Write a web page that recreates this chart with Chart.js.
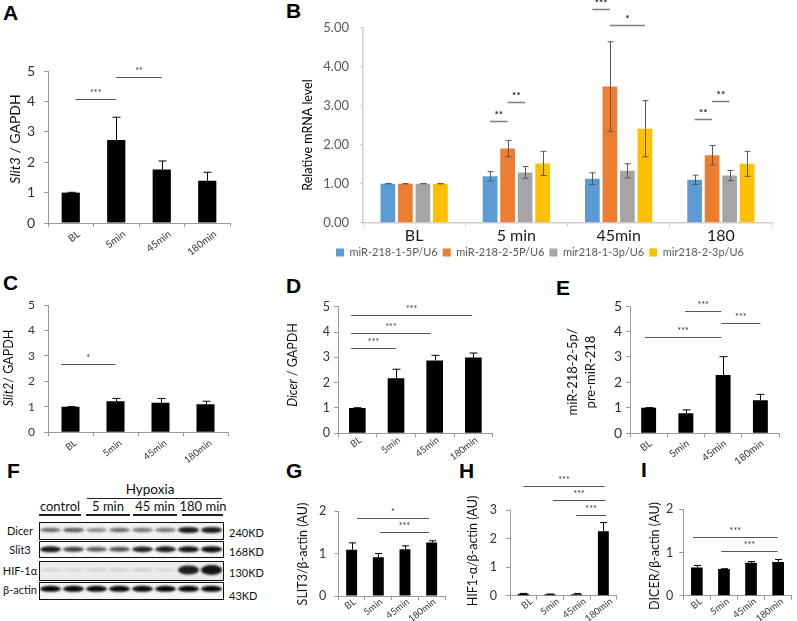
<!DOCTYPE html>
<html><head><meta charset="utf-8">
<script src="https://cdn.jsdelivr.net/npm/chart.js@4.4.1/dist/chart.umd.min.js"></script>
<style>
html,body{margin:0;padding:0;background:#fff;}
body{position:relative;width:797px;height:621px;overflow:hidden;font-family:'Liberation Sans',Arial,sans-serif;}
canvas{position:absolute;}
.pl{position:absolute;font:bold 21px 'Liberation Sans',Arial,sans-serif;line-height:21px;color:#000;}
.t{position:absolute;white-space:nowrap;font-family:Lato,'Open Sans',sans-serif;color:#111;transform:translate(-50%,-50%);line-height:1;}
.tl{position:absolute;white-space:nowrap;font-family:Lato,'Open Sans',sans-serif;color:#111;transform:translate(0,-50%);line-height:1;}
.hl{position:absolute;background:#222;height:1.5px;}
</style></head><body>
<div class="pl" style="left:3px;top:2px">A</div>
<div class="pl" style="left:286px;top:0px">B</div>
<div class="pl" style="left:3px;top:272px">C</div>
<div class="pl" style="left:286px;top:275px">D</div>
<div class="pl" style="left:556px;top:277px">E</div>
<div class="pl" style="left:7px;top:460px">F</div>
<div class="pl" style="left:286px;top:460px">G</div>
<div class="pl" style="left:459px;top:460px">H</div>
<div class="pl" style="left:641px;top:459px">I</div>

<!-- Panel F labels -->
<div class="t" style="left:150px;top:490px;font-size:13.5px">Hypoxia</div>
<div class="hl" style="left:87px;top:497.5px;width:135px"></div>
<div class="t" style="left:60px;top:505.5px;font-size:13px">control</div>
<div class="t" style="left:108px;top:505.5px;font-size:13px">5 min</div>
<div class="t" style="left:155px;top:505.5px;font-size:13px">45 min</div>
<div class="t" style="left:203px;top:505.5px;font-size:13px">180 min</div>
<div class="hl" style="left:39px;top:514px;width:42px"></div>
<div class="hl" style="left:86px;top:514px;width:44px"></div>
<div class="hl" style="left:133px;top:514px;width:44px"></div>
<div class="hl" style="left:182px;top:514px;width:41px"></div>
<div id="blotLabels"></div>

<script>
// ---------------- DATA ----------------
const timeLabels = ['BL', '5min', '45min', '180min'];

// A: Slit3 / GAPDH
const slit3Mrna = [1.00, 2.73, 1.76, 1.39];
const slit3MrnaErr = [0.01, 0.75, 0.28, 0.28];
const slit3MrnaSig = [{a: 0.1, b: 1, y: 4.08, t: '***'}, {a: 1, b: 2, y: 4.8, t: '**'}];

// B: relative miRNA levels
const bLabels = ['BL', '5 min', '45min', '180'];
const bSeriesNames = ['miR-218-1-5P/U6', 'miR-218-2-5P/U6', 'mir218-1-3p/U6', 'mir218-2-3p/U6'];
const mir218_1_5p = [1.00, 1.19, 1.13, 1.10];
const mir218_1_5pErr = [0.003, 0.12, 0.15, 0.12];
const mir218_2_5p = [1.00, 1.90, 3.49, 1.73];
const mir218_2_5pErr = [0.003, 0.21, 1.15, 0.25];
const mir218_1_3p = [1.00, 1.29, 1.33, 1.21];
const mir218_1_3pErr = [0.003, 0.15, 0.18, 0.13];
const mir218_2_3p = [1.00, 1.52, 2.41, 1.51];
const mir218_2_3pErr = [0.003, 0.31, 0.72, 0.32];
const bColors = ['#5b9bd5', '#ed7d31', '#a5a5a5', '#ffc000'];
const bSig = [
  {cat: 1, a: 0, b: 1, y: 2.60, t: '**'}, {cat: 1, a: 1, b: 2, y: 3.09, t: '**'},
  {cat: 2, a: 0, b: 1, y: 5.47, t: '***'}, {cat: 2, a: 1, b: 3, y: 5.07, t: '*'},
  {cat: 3, a: 0, b: 1, y: 2.67, t: '**'}, {cat: 3, a: 1, b: 2, y: 3.11, t: '**'}
];

// C: Slit2 / GAPDH
const slit2Mrna = [1.00, 1.22, 1.16, 1.10];
const slit2MrnaErr = [0.01, 0.11, 0.17, 0.12];
const slit2MrnaSig = [{a: -0.21, b: 1, y: 2.67, t: '*'}];

// D: Dicer / GAPDH
const dicerMrna = [1.00, 2.17, 2.88, 2.99];
const dicerMrnaErr = [0.01, 0.36, 0.20, 0.18];
const dicerMrnaSig = [{a: -0.16, b: 1.0, y: 3.37, t: '***'}, {a: -0.16, b: 1.9, y: 3.98, t: '***'}, {a: -0.16, b: 2.97, y: 4.66, t: '***'}];

// E: miR-218-2-5p / pre-miR-218
const matureRatio = [1.00, 0.79, 2.29, 1.30];
const matureRatioErr = [0.01, 0.13, 0.72, 0.23];
const matureRatioSig = [{a: -0.1, b: 1.95, y: 3.78, t: '***'}, {a: 0.98, b: 1.95, y: 4.82, t: '***'}, {a: 1.95, b: 3.0, y: 4.35, t: '***'}];

// G: SLIT3 / beta-actin
const slit3Prot = [1.09, 0.91, 1.10, 1.26];
const slit3ProtErr = [0.16, 0.09, 0.08, 0.04];
const slit3ProtSig = [{a: 0.2, b: 2.9, y: 1.84, t: '*'}, {a: 1.06, b: 2.9, y: 1.51, t: '***'}];

// H: HIF1-alpha / beta-actin
const hifProt = [0.07, 0.05, 0.05, 2.26];
const hifProtErr = [0.01, 0.01, 0.03, 0.30];
const hifProtSig = [{a: 0, b: 3.05, y: 3.84, t: '***'}, {a: 1.1, b: 3.08, y: 3.36, t: '***'}, {a: 1.98, b: 3.1, y: 2.82, t: '***'}];

// I: DICER / beta-actin
const dicerProt = [0.65, 0.62, 0.76, 0.78];
const dicerProtErr = [0.05, 0.005, 0.03, 0.06];
const dicerProtSig = [{a: -0.14, b: 2.98, y: 1.35, t: '***'}, {a: 0.9, b: 2.98, y: 1.04, t: '***'}];

// F: western blot band darkness (8 lanes: control x2, 5 min x2, 45 min x2, 180 min x2)
const blotRows = ['Dicer', 'Slit3', 'HIF-1α', 'β-actin'];
const blotKD = ['240KD', '168KD', '130KD', '43KD'];
const dicerBands = [0.55, 0.60, 0.42, 0.55, 0.50, 0.50, 0.88, 0.88];
const slit3Bands = [0.90, 0.72, 0.62, 0.66, 0.86, 0.88, 0.90, 0.95];
const hifBands = [0.12, 0.10, 0.13, 0.14, 0.16, 0.10, 0.88, 0.92];
const actinBands = [0.97, 0.97, 0.97, 0.97, 0.97, 0.97, 0.97, 0.97];

// ---------------- RENDER ----------------
const FONT = "Lato, 'Open Sans', sans-serif";
Chart.defaults.font.family = FONT;
const extras = new WeakMap();

const errorBars = {
  id: 'errorBars',
  afterDatasetsDraw(chart) {
    const ctx = chart.ctx, ys = chart.scales.y;
    chart.data.datasets.forEach((ds, i) => {
      if (!ds.err) return;
      const meta = chart.getDatasetMeta(i);
      meta.data.forEach((bar, j) => {
        const v = ds.data[j], e = ds.err[j];
        const top = ys.getPixelForValue(v + e);
        const bot = ys.getPixelForValue(ds.twoSided ? v - e : v);
        const c = (ds.capWidth || 8) / 2;
        const x = Math.round(bar.x) + 0.5;
        ctx.save();
        ctx.strokeStyle = ds.errColor || '#000';
        ctx.lineWidth = ds.errWidth || 1;
        ctx.beginPath();
        ctx.moveTo(x, top); ctx.lineTo(x, bot);
        ctx.moveTo(x - c, top); ctx.lineTo(x + c, top);
        if (ds.twoSided) { ctx.moveTo(x - c, bot); ctx.lineTo(x + c, bot); }
        ctx.stroke();
        ctx.restore();
      });
    });
  }
};

const sigBrackets = {
  id: 'sigBrackets',
  afterDatasetsDraw(chart) {
    const ex = extras.get(chart.canvas);
    if (!ex || !ex.sig) return;
    const ctx = chart.ctx, xs = chart.scales.x, ys = chart.scales.y;
    ex.sig.forEach(it => {
      let x1, x2;
      if (it.cat !== undefined) {
        x1 = chart.getDatasetMeta(it.a).data[it.cat].x;
        x2 = chart.getDatasetMeta(it.b).data[it.cat].x;
      } else {
        x1 = xs.getPixelForValue(it.a);
        x2 = xs.getPixelForValue(it.b);
      }
      const y = Math.round(ys.getPixelForValue(it.y)) + 0.5;
      ctx.save();
      ctx.strokeStyle = ex.sigLine || '#555';
      ctx.lineWidth = ex.sigWidth || 1;
      ctx.beginPath(); ctx.moveTo(x1, y); ctx.lineTo(x2, y); ctx.stroke();
      ctx.fillStyle = ex.sigText || '#333';
      ctx.font = ex.sigFont || ('9px ' + FONT);
      ctx.textAlign = 'center'; ctx.textBaseline = 'bottom';
      ctx.fillText(it.t, (x1 + x2) / 2, y - (ex.sigGap || 2));
      ctx.restore();
    });
  }
};

const yTitle = {
  id: 'yTitle',
  afterDraw(chart) {
    const ex = extras.get(chart.canvas);
    if (!ex || !ex.title) return;
    const tt = ex.title, ctx = chart.ctx;
    tt.lines.forEach((line, k) => {
      ctx.save();
      ctx.translate(tt.x[k] - ex.left, tt.y - ex.top);
      ctx.rotate(-Math.PI / 2);
      ctx.textBaseline = 'middle';
      ctx.fillStyle = tt.color || '#111';
      const fonts = line.map(p => (p[1] ? 'italic ' : '') + tt.size + 'px ' + FONT);
      let total = 0;
      line.forEach((p, i) => { ctx.font = fonts[i]; total += ctx.measureText(p[0]).width; });
      let x = -total / 2;
      line.forEach((p, i) => {
        ctx.font = fonts[i]; ctx.textAlign = 'left';
        ctx.fillText(p[0], x, 0);
        x += ctx.measureText(p[0]).width;
      });
      ctx.restore();
    });
  }
};

function makeCanvas(left, top, w, h) {
  const cv = document.createElement('canvas');
  cv.width = w; cv.height = h;
  cv.style.left = left + 'px'; cv.style.top = top + 'px';
  cv.style.width = w + 'px'; cv.style.height = h + 'px';
  document.body.appendChild(cv);
  return cv;
}

function blackPanel(c) {
  const cv = makeCanvas(c.left, c.top, c.w, c.h);
  const p = c.plot;
  extras.set(cv, {left: c.left, top: c.top, sig: c.sig, title: c.title});
  return new Chart(cv, {
    type: 'bar',
    data: {
      labels: timeLabels,
      datasets: [{
        data: c.values, err: c.err, capWidth: c.cap || 8,
        backgroundColor: '#000', borderWidth: 0,
        barPercentage: c.barPct, categoryPercentage: 1
      }]
    },
    options: {
      responsive: false, animation: false, devicePixelRatio: 1,
      layout: {padding: {left: 0, top: p.y0 - c.top, right: c.left + c.w - p.x1, bottom: 0}},
      plugins: {legend: {display: false}, tooltip: {enabled: false}},
      scales: {
        x: {
          grid: {display: true, drawOnChartArea: false, offset: true, tickLength: 4, color: '#9a9a9a'},
          border: {color: '#9a9a9a', width: 1},
          ticks: {font: {size: c.xFont, family: FONT}, color: '#333', minRotation: 38, maxRotation: 38,
            padding: c.xPad, labelOffset: c.xOff, autoSkip: false},
          afterFit(s) { s.height = c.top + c.h - p.y1; }
        },
        y: {
          min: 0, max: c.yMax,
          ticks: {stepSize: 1, font: {size: c.tickFont, family: FONT}, color: '#333', padding: c.tickPad},
          grid: {display: true, drawOnChartArea: false, tickLength: 4, color: '#9a9a9a'},
          border: {color: '#9a9a9a', width: 1},
          afterFit(s) { s.width = p.x0 - c.left; }
        }
      }
    },
    plugins: [errorBars, sigBrackets, yTitle]
  });
}

// A
blackPanel({left: 0, top: 35, w: 262, h: 230, plot: {x0: 48, x1: 230, y0: 71, y1: 223},
  values: slit3Mrna, err: slit3MrnaErr, sig: slit3MrnaSig, yMax: 5, tickFont: 14, tickPad: 9, xFont: 10, barPct: 0.4,
  xPad: 1, xOff: 8,
  title: {x: [15], y: 139, size: 14, lines: [[['Slit3', 1], [' / GAPDH', 0]]]}});
// C
blackPanel({left: 0, top: 285, w: 262, h: 185, plot: {x0: 48, x1: 228, y0: 305, y1: 432.3},
  values: slit2Mrna, err: slit2MrnaErr, sig: slit2MrnaSig, yMax: 5, tickFont: 12, tickPad: 9, xFont: 9.5, barPct: 0.4,
  xPad: 1, xOff: 5,
  title: {x: [9], y: 368, size: 12.5, lines: [[['Slit2', 1], ['/ GAPDH', 0]]]}});
// D
blackPanel({left: 270, top: 285, w: 258, h: 185, plot: {x0: 338, x1: 492.7, y0: 306.7, y1: 433.3},
  values: dicerMrna, err: dicerMrnaErr, sig: dicerMrnaSig, yMax: 5, tickFont: 12.5, tickPad: 4, xFont: 9.5, barPct: 0.43,
  xPad: -3, xOff: 3,
  title: {x: [293], y: 365, size: 12.5, lines: [[['Dicer', 1], [' / GAPDH', 0]]]}});
// E
blackPanel({left: 530, top: 285, w: 267, h: 185, plot: {x0: 630, x1: 779, y0: 306, y1: 433.3},
  values: matureRatio, err: matureRatioErr, sig: matureRatioSig, yMax: 5, tickFont: 14, tickPad: 4, xFont: 10, barPct: 0.4,
  xPad: 0, xOff: 2,
  title: {x: [573, 591], y: 372, size: 13, lines: [[['miR-218-2-5p/', 0]], [['pre-miR-218', 0]]]}});
// G
blackPanel({left: 275, top: 478, w: 185, h: 143, plot: {x0: 338.3, x1: 445, y0: 511, y1: 596},
  values: slit3Prot, err: slit3ProtErr, sig: slit3ProtSig, yMax: 2, tickFont: 12.5, tickPad: 8, xFont: 9.5, barPct: 0.41, cap: 7,
  xPad: -4, xOff: 3,
  title: {x: [303], y: 554, size: 12.5, lines: [[['SLIT3/β-actin (AU)', 0]]]}});
// H
blackPanel({left: 455, top: 474, w: 180, h: 147, plot: {x0: 510, x1: 616.7, y0: 510, y1: 595.7},
  values: hifProt, err: hifProtErr, sig: hifProtSig, yMax: 3, tickFont: 12.5, tickPad: 9, xFont: 9.5, barPct: 0.41, cap: 7,
  xPad: -4, xOff: 8,
  title: {x: [473], y: 551, size: 12.5, lines: [[['HIF1-α/β-actin (AU)', 0]]]}});
// I
blackPanel({left: 635, top: 478, w: 162, h: 143, plot: {x0: 683.3, x1: 791.7, y0: 509.3, y1: 595.7},
  values: dicerProt, err: dicerProtErr, sig: dicerProtSig, yMax: 2, tickFont: 12.5, tickPad: 6, xFont: 9.5, barPct: 0.43, cap: 7,
  xPad: -4, xOff: 4,
  title: {x: [655], y: 556, size: 12.5, lines: [[['DICER/β-actin (AU)', 0]]]}});

// B
(function () {
  const left = 270, top = 0, w = 527, h = 268;
  const padLeft = 38;
  const plot = {x0: 363, x1: 772, y0: 27.7, y1: 222.7};
  const cv = makeCanvas(left, top, w, h);
  extras.set(cv, {left, top, sig: bSig, sigLine: '#7f7f7f', sigWidth: 1.5, sigText: '#222', sigFont: 'bold 10px ' + FONT, sigGap: 2,
    title: {x: [308], y: 135, size: 12.5, color: '#000', lines: [[['Relative mRNA level', 0]]]}});
  const vals = [mir218_1_5p, mir218_2_5p, mir218_1_3p, mir218_2_3p];
  const errs = [mir218_1_5pErr, mir218_2_5pErr, mir218_1_3pErr, mir218_2_3pErr];
  new Chart(cv, {
    type: 'bar',
    data: {
      labels: bLabels,
      datasets: bSeriesNames.map((n, i) => ({
        label: n, data: vals[i], err: errs[i], twoSided: true, errColor: '#595959', capWidth: 6,
        backgroundColor: bColors[i], borderWidth: 0, barPercentage: 0.84, categoryPercentage: 0.685
      }))
    },
    options: {
      responsive: false, animation: false, devicePixelRatio: 1,
      layout: {padding: {left: padLeft, top: plot.y0 - top, right: left + w - plot.x1, bottom: 0}},
      plugins: {
        tooltip: {enabled: false},
        legend: {display: true, position: 'bottom',
          labels: {boxWidth: 8, boxHeight: 8, padding: 5, color: '#595959', font: {size: 11, family: FONT}}}
      },
      scales: {
        x: {
          grid: {display: true, drawOnChartArea: false, offset: true, tickLength: 4, color: '#cfcfcf'},
          border: {color: '#cfcfcf', width: 1.5},
          ticks: {font: {size: 16, family: FONT}, color: '#1a1a1a', padding: 0, maxRotation: 0},
          afterFit(s) { s.height = 19.3; }
        },
        y: {
          min: 0, max: 5,
          ticks: {stepSize: 1, callback: v => Number(v).toFixed(2), font: {size: 13, family: FONT}, color: '#595959', padding: 11},
          grid: {display: true, drawOnChartArea: false, tickLength: 3, color: '#cfcfcf'},
          border: {color: '#cfcfcf', width: 1.5},
          afterFit(s) { s.width = plot.x0 - left - padLeft; }
        }
      }
    },
    plugins: [errorBars, sigBrackets, yTitle]
  });
})();

// F: western blot
(function () {
  const bands = [dicerBands, slit3Bands, hifBands, actinBands];
  const rowsY = [[521.7, 539], [541, 557.3], [561, 580], [582, 599]];
  const bandY = [530, 549.3, 570, 588.8];
  const baseTh = [4, 4.5, 3, 6];
  const extraTh = [3, 2, 9, 0];
  const bg = ['#f1f1f1', '#f7f7f7', '#ececec', '#f5f5f5'];
  const x0 = 39, x1 = 223, lanes = 8;
  const laneW = (x1 - x0) / lanes;
  const cv = makeCanvas(0, 515, 270, 90);
  const ctx = cv.getContext('2d');
  const oy = 515;
  rowsY.forEach((r, k) => {
    ctx.fillStyle = bg[k];
    ctx.fillRect(x0, r[0] - oy, x1 - x0, r[1] - r[0]);
    bands[k].forEach((v, i) => {
      const cx = x0 + laneW * (i + 0.5);
      const th = baseTh[k] + extraTh[k] * Math.pow(v, 3);
      ctx.save();
      ctx.filter = 'blur(1.1px)';
      ctx.fillStyle = 'rgba(0,0,0,' + v + ')';
      ctx.beginPath();
      ctx.ellipse(cx, bandY[k] - oy, laneW * 0.46, th / 2, 0, 0, Math.PI * 2);
      ctx.fill();
      ctx.restore();
    });
    ctx.strokeStyle = '#111'; ctx.lineWidth = 1;
    ctx.strokeRect(x0 + 0.5, Math.round(r[0] - oy) + 0.5, x1 - x0, Math.round(r[1] - r[0]));
  });
  const holder = document.getElementById('blotLabels');
  blotRows.forEach((n, k) => {
    const d = document.createElement('div');
    d.className = 't'; d.style.left = '20px'; d.style.top = bandY[k] + 'px'; d.style.fontSize = '11px';
    d.textContent = n; holder.appendChild(d);
    const e = document.createElement('div');
    e.className = 'tl'; e.style.left = '229px'; e.style.top = (bandY[k] + (k === 3 ? 6 : 2)) + 'px'; e.style.fontSize = '11px';
    e.textContent = blotKD[k]; holder.appendChild(e);
  });
})();
</script>
</body></html>
